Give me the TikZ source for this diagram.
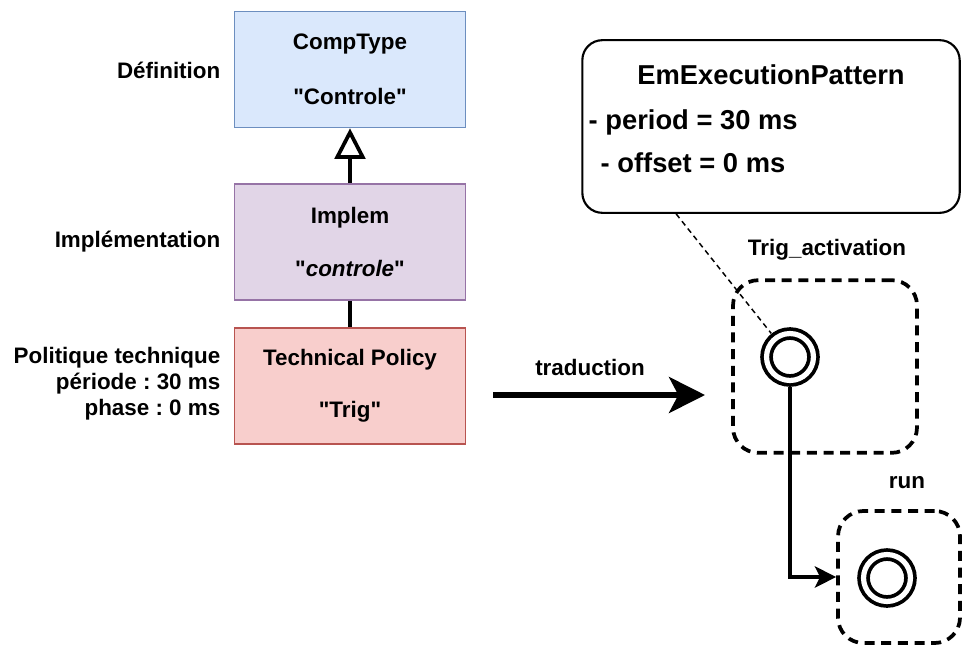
\documentclass[tikz,border=0pt]{standalone}
\usepackage{fontspec}
\setmainfont{Liberation Sans}[Ligatures=TeXOff]
\frenchspacing
\definecolor{defblue}{HTML}{DAE8FC}
\definecolor{defblueline}{HTML}{6C8EBF}
\definecolor{implpurple}{HTML}{E1D5E7}
\definecolor{implpurpleline}{HTML}{9673A6}
\definecolor{polred}{HTML}{F8CECC}
\definecolor{polredline}{HTML}{B85450}
\usetikzlibrary{arrows.meta,positioning,calc}

\begin{document}
\begin{tikzpicture}[x=0.75pt, y=-0.75pt,
    box/.style={rectangle, draw, line width=1.2pt, minimum width=173pt,
                minimum height=87pt, align=center,
                font=\bfseries\fontsize{16.8}{20}\selectfont},
    lbl/.style={font=\bfseries\fontsize{16.8}{19.5}\selectfont, align=right},
    big/.style={font=\bfseries\fontsize{20.5}{24}\selectfont},
    container/.style={rectangle, rounded corners=19pt, draw,
                      dash pattern=on 7.5pt off 5pt, line width=2.8pt},
    port/.style={circle, draw=black, double=white, line width=2.8pt,
                 double distance=3.9pt, minimum size=35.2pt, inner sep=0pt,
                 outer sep=5pt}
  ]
    \useasboundingbox (0,0) rectangle (962,646);
    % Left column labels
    \node[lbl, anchor=east] (ldef) at (225, 70) {Définition};
    \node[lbl, anchor=east] (limpl) at (225, 242) {Implémentation};
    \node[lbl, anchor=east] (lpol) at (225, 384)
      {Politique technique\\période : 30 ms\\phase : 0 ms};
    % Model boxes
    \node[box, fill=defblue, draw=defblueline] (comptype) at (350, 69.5)
      {CompType\\[21pt]"Controle"};
    \node[box, fill=implpurple, draw=implpurpleline] (implem) at (350, 242)
      {Implem\\[20pt]"\textit{controle}"};
    \node[box, fill=polred, draw=polredline] (policy) at (350, 386)
      {Technical Policy\\[19pt]"Trig"};
    \draw[-{Triangle[open, length=23pt, width=23pt]}, line width=2.8pt]
      (implem.north) -- (comptype.south);
    \draw[line width=2.8pt] (implem.south) -- (policy.north);
    % Translation arrow
    \coordinate (tradA) at (493, 395);
    \coordinate (tradB) at (705, 395);
    \draw[-{Stealth[length=27pt, width=27pt, inset=7pt]}, line width=4pt]
      (tradA) -- (tradB);
    \node[lbl] (tradlbl) at (590, 367) {traduction};
    % Execution pattern callout
    \node[rectangle, rounded corners=15pt, draw, line width=1.6pt,
          minimum width=283pt, minimum height=129.5pt] (callout) at (771, 126.5) {};
    \node[big] (emtitle) at (771, 75) {EmExecutionPattern};
    \node[big, anchor=west] (emperiod) at (584, 122) {- period = 30 ms};
    \node[big, anchor=west] (emoffset) at (596, 163) {- offset = 0 ms};
    % Activation containers
    \node[container, minimum width=138pt, minimum height=129.5pt] (trigbox) at (825, 366.5) {};
    \node[lbl] (triglbl) at (827, 250) {Trig\_activation};
    \node[port] (trigc) at (790, 357) {};
    \node[container, minimum width=91.5pt, minimum height=99pt] (runbox) at (899, 577) {};
    \node[lbl] (runlbl) at (907, 483) {run};
    \node[port] (runc) at (887, 578) {};
    \draw[line width=1.1pt, dash pattern=on 4pt off 3pt]
      ($(callout.south west)!0.25!(callout.south east)$) -- (trigc);
    \draw[-{Stealth[length=16pt, width=16pt, inset=4pt]}, line width=2.6pt]
      (trigc.south) |- (runbox.west);
  \end{tikzpicture}
\end{document}
